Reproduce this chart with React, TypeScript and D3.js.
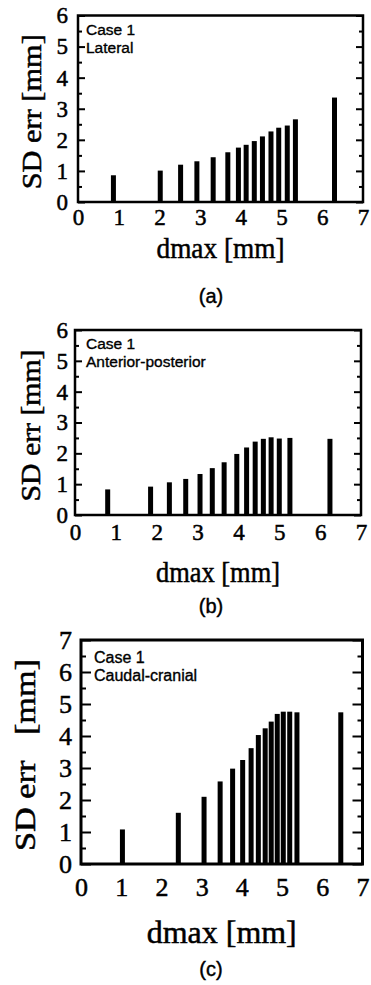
import { useEffect, useRef } from "react";
import * as d3 from "d3";

const svg_width = 371;
const svg_height = 985;

// bar positions (dmax, mm) and heights (SD err, mm)
const dmaxA = [0.87, 2.02, 2.52, 2.92, 3.32, 3.68, 3.94, 4.13, 4.33, 4.53, 4.74, 4.93, 5.14, 5.34, 6.30];
const sdA = [0.86, 1.01, 1.20, 1.31, 1.44, 1.60, 1.75, 1.84, 1.96, 2.11, 2.27, 2.39, 2.46, 2.66, 3.36];

const dmaxB = [0.80, 1.85, 2.31, 2.71, 3.06, 3.36, 3.65, 3.96, 4.20, 4.41, 4.61, 4.80, 5.00, 5.26, 6.24];
const sdB = [0.83, 0.92, 1.06, 1.17, 1.33, 1.52, 1.71, 1.98, 2.19, 2.38, 2.47, 2.52, 2.48, 2.50, 2.47];

const dmaxC = [1.03, 2.42, 3.06, 3.46, 3.77, 4.02, 4.23, 4.41, 4.58, 4.73, 4.88, 5.03, 5.19, 5.37, 6.46];
const sdC = [1.08, 1.60, 2.10, 2.58, 2.98, 3.25, 3.62, 4.03, 4.24, 4.45, 4.69, 4.76, 4.76, 4.74, 4.74];

const xTicks = [0, 1, 2, 3, 4, 5, 6, 7];
const xTitle = "dmax [mm]";
const yTitle = "SD err [mm]";
const yTitleWide = "SD err\u00a0\u00a0\u00a0[mm]";
const caseLabel = "Case 1";

const serif = "'Liberation Serif', 'Times New Roman', serif";
const sans = "'Liberation Sans', Arial, sans-serif";

interface PanelSpec {
    dmax: number[];
    sd: number[];
    yMax: number;
    direction: string;
    tag: string;
    left: number; right: number; top: number; bottom: number;
    tickFont: number; tickGapX: number; tickGapY: number;
    major: number; minor: number; frame: number;
    legendX: number; legendY: number; legendFont: number;
    yTitleText: string; yTitleX: number; yTitleLen: number; yTitleFont: number;
    xTitleY: number; xTitleLen: number; xTitleFont: number;
    tagY: number;
}

const panels: PanelSpec[] = [
    {
        dmax: dmaxA, sd: sdA, yMax: 6, direction: "Lateral", tag: "(a)",
        left: 78, right: 363, top: 15.5, bottom: 202,
        tickFont: 23, tickGapX: 6.5, tickGapY: 10,
        major: 7, minor: 4, frame: 2.5,
        legendX: 86, legendY: 29, legendFont: 15.5,
        yTitleText: yTitle, yTitleX: 32, yTitleLen: 155, yTitleFont: 27,
        xTitleY: 248, xTitleLen: 128, xTitleFont: 29,
        tagY: 296,
    },
    {
        dmax: dmaxB, sd: sdB, yMax: 6, direction: "Anterior-posterior", tag: "(b)",
        left: 75, right: 361, top: 330, bottom: 515,
        tickFont: 23, tickGapX: 9, tickGapY: 7,
        major: 7, minor: 4, frame: 2.5,
        legendX: 86, legendY: 343, legendFont: 15.5,
        yTitleText: yTitle, yTitleX: 31, yTitleLen: 152, yTitleFont: 27,
        xTitleY: 572, xTitleLen: 124, xTitleFont: 29,
        tagY: 606,
    },
    {
        dmax: dmaxC, sd: sdC, yMax: 7, direction: "Caudal-cranial", tag: "(c)",
        left: 81, right: 362.5, top: 640, bottom: 864,
        tickFont: 26, tickGapX: 14, tickGapY: 9,
        major: 10, minor: 5, frame: 3,
        legendX: 94, legendY: 657, legendFont: 16,
        yTitleText: yTitleWide, yTitleX: 25, yTitleLen: 192, yTitleFont: 29,
        xTitleY: 932, xTitleLen: 150, xTitleFont: 32,
        tagY: 969,
    },
];

function drawPanel(svg: d3.Selection<SVGSVGElement, unknown, null, undefined>, p: PanelSpec) {
    const g = svg.append("g");

    const x = d3.scaleLinear()
        .domain([0, 7])
        .range([p.left, p.right]);

    const y = d3.scaleLinear()
        .domain([0, p.yMax])
        .range([p.bottom, p.top]);

    const barWidth = 5;

    g.append("g")
        .selectAll("rect")
        .data(d3.zip(p.dmax, p.sd))
        .join("rect")
            .attr("x", (d) => x(d[0]) - barWidth / 2)
            .attr("y", (d) => y(d[1]))
            .attr("width", barWidth)
            .attr("height", (d) => y(0) - y(d[1]))
            .attr("fill", "black");

    const majors = d3.range(0, p.yMax + 1);
    const minors = d3.range(0.5, p.yMax, 1);

    const tickStyle = (s: any) => {
        s.select(".domain").remove();
        s.selectAll("line").attr("stroke", "black").attr("stroke-width", 2);
    };

    const serifText = (s: any, size: number) => s
        .attr("fill", "black")
        .attr("stroke", "black")
        .attr("stroke-width", 0.5)
        .style("font-family", serif)
        .style("font-size", `${size}px`);

    // left: inward ticks, labels outside
    g.append("g")
        .attr("transform", `translate(${p.left},0)`)
        .call(d3.axisLeft(y).tickValues(minors).tickSize(-p.minor).tickFormat(() => ""))
        .call(tickStyle);
    g.append("g")
        .attr("transform", `translate(${p.left},0)`)
        .call(d3.axisLeft(y).tickValues(majors).tickSize(-p.major).tickPadding(p.tickGapY).tickFormat(d3.format("d")))
        .call(tickStyle)
        .call((s) => serifText(s.selectAll("text"), p.tickFont));

    // right: inward ticks only
    g.append("g")
        .attr("transform", `translate(${p.right},0)`)
        .call(d3.axisRight(y).tickValues(minors).tickSize(-p.minor).tickFormat(() => ""))
        .call(tickStyle);
    g.append("g")
        .attr("transform", `translate(${p.right},0)`)
        .call(d3.axisRight(y).tickValues(majors).tickSize(-p.major).tickFormat(() => ""))
        .call(tickStyle);

    // bottom: labels only
    g.append("g")
        .attr("transform", `translate(0,${p.bottom})`)
        .call(d3.axisBottom(x).tickValues(xTicks).tickSize(0).tickPadding(p.tickGapX).tickFormat(d3.format("d")))
        .call((s) => s.select(".domain").remove())
        .call((s) => serifText(s.selectAll("text"), p.tickFont));

    g.append("rect")
        .attr("x", p.left)
        .attr("y", p.top)
        .attr("width", p.right - p.left)
        .attr("height", p.bottom - p.top)
        .attr("fill", "none")
        .attr("stroke", "black")
        .attr("stroke-width", p.frame);

    const legend = g.append("text")
        .attr("x", p.legendX)
        .attr("y", p.legendY)
        .attr("dominant-baseline", "central")
        .style("font-family", sans)
        .style("font-size", `${p.legendFont}px`)
        .attr("stroke", "black")
        .attr("stroke-width", 0.35);
    legend.append("tspan").attr("x", p.legendX).text(caseLabel);
    legend.append("tspan").attr("x", p.legendX).attr("dy", "1.15em").text(p.direction);

    g.append("text")
        .attr("transform", `translate(${p.yTitleX},${(p.top + p.bottom) / 2 + 3}) rotate(-90)`)
        .attr("text-anchor", "middle")
        .attr("dominant-baseline", "central")
        .attr("textLength", p.yTitleLen)
        .attr("lengthAdjust", "spacingAndGlyphs")
        .call((s) => serifText(s, p.yTitleFont))
        .text(p.yTitleText);

    g.append("text")
        .attr("x", (p.left + p.right) / 2)
        .attr("y", p.xTitleY)
        .attr("text-anchor", "middle")
        .attr("dominant-baseline", "central")
        .attr("textLength", p.xTitleLen)
        .attr("lengthAdjust", "spacingAndGlyphs")
        .call((s) => serifText(s, p.xTitleFont))
        .text(xTitle);

    g.append("text")
        .attr("x", 211)
        .attr("y", p.tagY)
        .attr("text-anchor", "middle")
        .attr("dominant-baseline", "central")
        .attr("stroke", "black")
        .attr("stroke-width", 0.4)
        .style("font-family", sans)
        .style("font-size", "20px")
        .text(p.tag);
}

export default function App() {
    const ref = useRef<HTMLDivElement>(null);

    useEffect(() => {
        const svg = d3.select(ref.current)
            .append("svg")
                .attr("width", svg_width)
                .attr("height", svg_height)
                .style("background-color", "white")
                .style("display", "block");

        panels.forEach((p) => drawPanel(svg as any, p));

        return () => {
            d3.select(ref.current).selectAll("*").remove();
        };
    }, [ref]);

    return (
        <div ref={ref} style={{ position: "absolute", left: 0, top: 0 }} />
    );
}
